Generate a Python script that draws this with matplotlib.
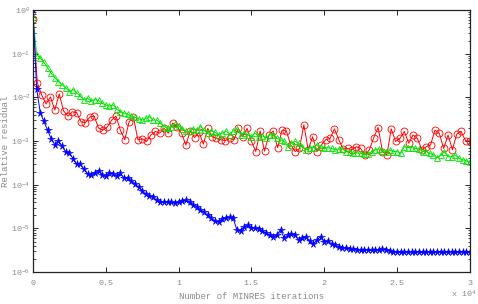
import numpy as np
import matplotlib
matplotlib.use("Agg")
import matplotlib.pyplot as plt
from matplotlib.ticker import LogLocator, FixedLocator, NullFormatter, FuncFormatter

# sampled iteration counts (markers every 300 / 250 iterations)
red_iter = np.arange(0, 30001, 300)
green_iter = np.arange(0, 30001, 250)
blue_iter = np.arange(0, 30001, 250)

# log10 of relative residual
red_log = [
    -0.21, -1.67, -1.95, -2.15, -1.99, -2.29, -1.92, -2.31, -2.43, -2.33,
    -2.35, -2.56, -2.58, -2.45, -2.43, -2.70, -2.75, -2.68, -2.52, -2.43,
    -2.75, -2.97, -2.56, -2.45, -2.97, -2.95, -3.01, -2.86, -2.78, -2.82,
    -2.71, -2.82, -2.59, -2.67, -2.82, -3.09, -2.77, -2.92, -2.80, -3.07,
    -2.71, -2.90, -2.94, -2.97, -2.99, -2.94, -2.97, -2.71, -2.90, -2.71,
    -3.01, -3.24, -2.77, -3.23, -2.86, -2.77, -3.15, -2.75, -2.77, -3.09,
    -3.24, -3.17, -2.63, -3.20, -2.90, -3.24, -3.09, -2.97, -2.94, -2.72,
    -2.97, -3.18, -3.17, -3.20, -3.13, -3.17, -3.32, -3.20, -2.92, -2.69,
    -3.24, -3.32, -2.72, -3.01, -2.94, -2.78, -3.05, -2.86, -2.94, -3.20,
    -3.13, -3.09, -2.75, -2.82, -3.17, -2.86, -3.20, -2.84, -2.78, -2.99,
    -3.00,
]
green_log = [
    -0.15, -1.03, -1.10, -1.20, -1.32, -1.45, -1.55, -1.64, -1.71, -1.78,
    -1.87, -1.82, -1.90, -1.97, -2.06, -2.02, -2.08, -2.05, -2.07, -2.14,
    -2.17, -2.20, -2.17, -2.27, -2.33, -2.36, -2.39, -2.43, -2.46, -2.49,
    -2.52, -2.48, -2.44, -2.52, -2.52, -2.59, -2.67, -2.71, -2.67, -2.62,
    -2.65, -2.72, -2.77, -2.78, -2.72, -2.75, -2.67, -2.75, -2.82, -2.77,
    -2.80, -2.86, -2.82, -2.77, -2.86, -2.77, -2.72, -2.85, -2.82, -2.86,
    -2.90, -2.82, -2.90, -2.88, -2.92, -2.86, -2.86, -2.94, -2.97, -3.00,
    -3.13, -3.05, -3.01, -3.05, -3.13, -3.20, -3.15, -3.15, -3.09, -3.13,
    -3.17, -3.15, -3.17, -3.20, -3.18, -3.18, -3.24, -3.24, -3.28, -3.27,
    -3.28, -3.30, -3.30, -3.24, -3.20, -3.18, -3.22, -3.24, -3.20, -3.24,
    -3.24, -3.28, -3.13, -3.15, -3.15, -3.17, -3.18, -3.24, -3.24, -3.28,
    -3.32, -3.38, -3.32, -3.24, -3.36, -3.36, -3.32, -3.39, -3.43, -3.45,
    -3.49,
]
blue_log = [
    0.00, -1.80, -2.35, -2.55, -2.75, -2.95, -3.08, -3.00, -3.12, -3.25,
    -3.28, -3.40, -3.53, -3.53, -3.65, -3.75, -3.77, -3.72, -3.68, -3.78,
    -3.81, -3.72, -3.75, -3.79, -3.74, -3.85, -3.85, -3.92, -3.98, -4.06,
    -4.14, -4.22, -4.25, -4.28, -4.36, -4.40, -4.39, -4.40, -4.40, -4.42,
    -4.40, -4.37, -4.36, -4.40, -4.46, -4.50, -4.58, -4.63, -4.70, -4.76,
    -4.84, -4.85, -4.79, -4.76, -4.75, -4.77, -5.03, -5.06, -4.96, -4.93,
    -4.98, -5.00, -5.01, -5.06, -5.11, -5.15, -5.19, -5.15, -5.03, -5.22,
    -5.16, -5.13, -5.16, -5.26, -5.22, -5.19, -5.29, -5.36, -5.26, -5.19,
    -5.32, -5.29, -5.36, -5.39, -5.42, -5.44, -5.45, -5.47, -5.48, -5.49,
    -5.50, -5.50, -5.49, -5.50, -5.49, -5.50, -5.48, -5.49, -5.52, -5.54,
    -5.54, -5.55, -5.54, -5.54, -5.55, -5.54, -5.54, -5.55, -5.54, -5.54,
    -5.55, -5.54, -5.54, -5.55, -5.54, -5.54, -5.55, -5.54, -5.54, -5.55,
    -5.54,
]

x_ticks = [0, 0.5, 1, 1.5, 2, 2.5, 3]
x_tick_labels = ["0", "0.5", "1", "1.5", "2", "2.5", "3"]

grey = "#8a8a8a"
mono = "Liberation Mono"
plt.rcParams["mathtext.fontset"] = "custom"
plt.rcParams["mathtext.rm"] = mono
plt.rcParams["mathtext.it"] = mono
plt.rcParams["mathtext.default"] = "regular"


def dec_label(v, pos):
    e = int(round(np.log10(v)))
    return r"10$^{%d}$" % e


fig = plt.figure(figsize=(4.78, 3.04), dpi=100)
ax = fig.add_axes([0.069, 0.105, 0.914, 0.862])

ax.semilogy(red_iter / 1e4, 10 ** np.array(red_log), "-o", color="#ff0000",
            lw=0.7, ms=5, mfc="none", mew=0.6)
ax.semilogy(green_iter / 1e4, 10 ** np.array(green_log), "-^", color="#00e600",
            lw=0.7, ms=4.5, mfc="none", mew=0.6)
ax.semilogy(blue_iter / 1e4, 10 ** np.array(blue_log), "-*", color="#0000ff",
            lw=0.7, ms=5.5, mew=0.4)

ax.set_xlim(0, 3)
ax.set_ylim(1e-6, 1e0)
ax.xaxis.set_major_locator(FixedLocator(x_ticks))
ax.set_xticklabels(x_tick_labels)
ax.yaxis.set_major_locator(LogLocator(base=10, numticks=10))
ax.yaxis.set_major_formatter(FuncFormatter(dec_label))
ax.yaxis.set_minor_locator(LogLocator(base=10, subs=np.arange(2, 10), numticks=20))
ax.yaxis.set_minor_formatter(NullFormatter())

ax.tick_params(which="both", direction="in", top=True, right=True,
               labelsize=6, labelcolor=grey)
ax.tick_params(which="major", length=3.5, width=0.6)
ax.tick_params(axis="x", pad=6)
ax.tick_params(axis="y", pad=2)
ax.tick_params(which="minor", length=1.8, width=0.5)
for lab in ax.get_xticklabels() + ax.get_yticklabels():
    lab.set_family(mono)
for sp in ax.spines.values():
    sp.set_linewidth(0.9)
    sp.set_color("#222222")

ax.set_xlabel("Number of MINRES iterations", family=mono, fontsize=6.5,
              color=grey, labelpad=3)
ax.set_ylabel("Relative residual", family=mono, fontsize=6.5, color=grey,
              va="center")
ax.yaxis.set_label_coords(-0.062, 0.5)
fig.text(0.943, 0.012, r"x 10$^{4}$", family=mono, fontsize=6, color=grey,
         ha="left", va="bottom")

fig.savefig("out.png", dpi=100)
